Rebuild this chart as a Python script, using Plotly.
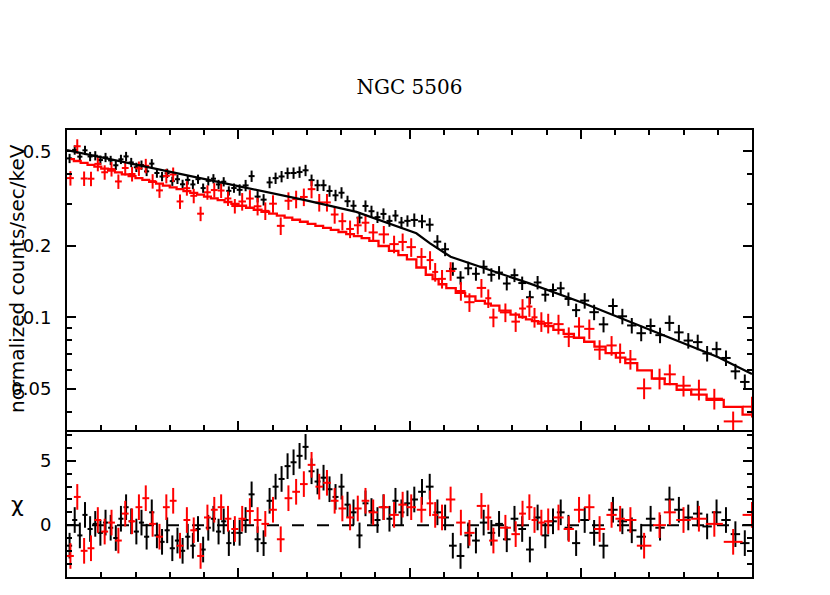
import numpy as np
import plotly.graph_objects as go
from plotly.subplots import make_subplots

# first data group (black)
e_black = [5.015, 5.045, 5.075, 5.105, 5.135, 5.165, 5.195, 5.225, 5.255, 5.285,
           5.315, 5.345, 5.375, 5.405, 5.435, 5.465, 5.495, 5.525, 5.555, 5.585,
           5.615, 5.645, 5.675, 5.705, 5.735, 5.765, 5.795, 5.825, 5.855, 5.885,
           5.915, 5.945, 5.975,
           6.008, 6.043, 6.078, 6.113, 6.148, 6.183, 6.218, 6.253, 6.288, 6.323,
           6.358, 6.393, 6.428, 6.463, 6.498, 6.533, 6.568, 6.603, 6.638, 6.673,
           6.708, 6.743, 6.778, 6.813, 6.848, 6.883, 6.918, 6.953, 6.988,
           7.028, 7.073, 7.118, 7.163, 7.208, 7.253, 7.298, 7.343, 7.388, 7.433,
           7.478, 7.523, 7.568, 7.613, 7.658, 7.703, 7.748, 7.793, 7.838, 7.883,
           7.928, 7.973,
           8.023, 8.078, 8.133, 8.188, 8.243, 8.298, 8.353, 8.408, 8.463, 8.518,
           8.573, 8.628, 8.683, 8.738, 8.793, 8.848, 8.903, 8.958]
flux_black = [0.4671, 0.5070, 0.4750, 0.5051, 0.4759, 0.4794, 0.4595, 0.4715, 0.4582, 0.4369,
              0.4629, 0.4761, 0.4492, 0.4286, 0.4378, 0.4119, 0.4439, 0.4053, 0.3918, 0.4044,
              0.3746, 0.3816, 0.3634, 0.3792, 0.3629, 0.3819, 0.3503, 0.3758, 0.3837, 0.3630,
              0.3726, 0.3409, 0.3504,
              0.3443, 0.3594, 0.3934, 0.3225, 0.3131, 0.3701, 0.3857, 0.3919, 0.4050, 0.4054,
              0.4092, 0.4161, 0.3784, 0.3600, 0.3601, 0.3407, 0.3265, 0.3348, 0.3084, 0.2951,
              0.2630, 0.2946, 0.2799, 0.2642, 0.2727, 0.2548, 0.2683, 0.2510, 0.2549,
              0.2572, 0.2538, 0.2456, 0.2084, 0.1936, 0.1601, 0.1470, 0.1610, 0.1526, 0.1634,
              0.1512, 0.1544, 0.1389, 0.1506, 0.1395, 0.1216, 0.1403, 0.1246, 0.1304, 0.1326,
              0.1196, 0.1073,
              0.1177, 0.1052, 0.0935, 0.1117, 0.1011, 0.0925, 0.0858, 0.0920, 0.0842, 0.0948,
              0.0865, 0.0799, 0.0787, 0.0705, 0.0735, 0.0675, 0.0593, 0.0535]
relerr_black = [0.045, 0.045, 0.045, 0.045, 0.045, 0.045, 0.045, 0.045, 0.045, 0.045,
                0.045, 0.045, 0.045, 0.045, 0.045, 0.045, 0.045, 0.045, 0.045, 0.045,
                0.045, 0.045, 0.045, 0.045, 0.045, 0.045, 0.045, 0.045, 0.045, 0.045,
                0.045, 0.045, 0.045,
                0.055, 0.055, 0.055, 0.055, 0.055, 0.055, 0.055, 0.055, 0.055, 0.055,
                0.055, 0.055, 0.055, 0.055, 0.055, 0.055, 0.055, 0.055, 0.055, 0.055,
                0.055, 0.055, 0.055, 0.055, 0.055, 0.055, 0.055, 0.055, 0.055,
                0.065, 0.065, 0.065, 0.065, 0.065, 0.065, 0.065, 0.065, 0.065, 0.065,
                0.065, 0.065, 0.065, 0.065, 0.065, 0.065, 0.065, 0.065, 0.065, 0.065,
                0.065, 0.065,
                0.075, 0.075, 0.075, 0.075, 0.075, 0.075, 0.075, 0.075, 0.075, 0.075,
                0.075, 0.075, 0.075, 0.075, 0.075, 0.075, 0.075, 0.075]
chi_black = [-1.6, 0.4, -0.8, 0.8, -0.3, 0.1, -0.6, 0.2, -0.2, -1.0,
             0.5, 1.4, 0.3, -0.5, 0.2, -0.9, 1.0, -0.8, -1.3, -0.4,
             -1.8, -1.2, -2.0, -0.9, -1.6, -0.3, -1.9, -0.2, 0.5, -0.5,
             0.3, -1.4, -0.6,
             -0.6, 0.4, 2.4, -1.1, -1.4, 1.9, 3.0, 3.6, 4.6, 4.9,
             5.4, 6.1, 4.2, 3.4, 3.7, 2.8, 2.2, 3.0, 1.6, 1.0,
             -0.8, 1.7, 1.1, 0.4, 1.4, 0.5, 1.9, 1.0, 1.7,
             2.0, 2.6, 3.0, 1.0, 0.6, -1.6, -2.4, -0.8, -1.2, 0.2,
             -0.6, 0.1, -1.1, 0.5, -0.3, -1.9, 0.6, -0.8, 0.3, 1.0,
             -0.2, -1.4,
             0.4, -0.6, -1.6, 1.2, 0.3, -0.4, -0.9, 0.5, -0.2, 2.0,
             1.2, 0.6, 0.9, -0.1, 1.0, 0.4, -0.7, -1.4]
# black model curve
model_e_black = [5.0, 5.5, 6.0, 6.39, 6.69, 7.04, 7.12, 7.24, 7.47, 7.70, 8.01, 8.41, 8.80, 9.0]
model_black = [0.506, 0.424, 0.357, 0.312, 0.278, 0.226, 0.205, 0.180, 0.158, 0.139,
               0.1153, 0.0886, 0.0681, 0.0578]

# second data group (red)
e_red = [5.02, 5.06, 5.10, 5.14, 5.18, 5.22, 5.26, 5.30, 5.34, 5.38,
         5.42, 5.46, 5.50, 5.54, 5.58, 5.62, 5.66, 5.70, 5.74, 5.78,
         5.82, 5.86, 5.90, 5.94, 5.98,
         6.023, 6.068, 6.113, 6.158, 6.203, 6.248, 6.293, 6.338, 6.383, 6.428,
         6.473, 6.518, 6.563, 6.608, 6.653, 6.698, 6.743, 6.788,
         6.85, 6.91, 6.96, 7.01, 7.07, 7.12, 7.15, 7.19, 7.24, 7.30,
         7.35, 7.42, 7.46, 7.49, 7.56,
         7.62, 7.66, 7.70, 7.73, 7.77, 7.81, 7.87, 7.93, 7.99, 8.05,
         8.11, 8.18, 8.23, 8.29,
         8.37, 8.46, 8.52, 8.60, 8.69, 8.78, 8.89, 9.0]
flux_red = [0.3858, 0.5254, 0.3844, 0.3836, 0.4430, 0.4083, 0.4212, 0.3735, 0.4256, 0.4014,
            0.4237, 0.4346, 0.3746, 0.3425, 0.3942, 0.3996, 0.3077, 0.3499, 0.3250, 0.2733,
            0.3363, 0.3436, 0.3420, 0.3167, 0.2943,
            0.3076, 0.3165, 0.2936, 0.2809, 0.3011, 0.2429, 0.3098, 0.3147, 0.3214, 0.3467,
            0.3048, 0.3049, 0.2711, 0.2541, 0.2357, 0.2442, 0.2504, 0.2279,
            0.2236, 0.2035, 0.2078, 0.1976, 0.1797, 0.1743, 0.1554, 0.1453, 0.1567, 0.1292,
            0.1159, 0.1331, 0.1204, 0.0999, 0.1050,
            0.0960, 0.1090, 0.1111, 0.1001, 0.0960, 0.0946, 0.0937, 0.0829, 0.0915, 0.0895,
            0.0732, 0.0762, 0.0709, 0.0666,
            0.0503, 0.0553, 0.0576, 0.0516, 0.0497, 0.0455, 0.0365, 0.0421]
relerr_red = [0.07, 0.07, 0.07, 0.07, 0.07, 0.07, 0.07, 0.07, 0.07, 0.07,
              0.07, 0.07, 0.07, 0.07, 0.07, 0.07, 0.07, 0.07, 0.07, 0.07,
              0.07, 0.07, 0.07, 0.07, 0.07,
              0.085, 0.085, 0.085, 0.085, 0.085, 0.085, 0.085, 0.085, 0.085, 0.085,
              0.085, 0.085, 0.085, 0.085, 0.085, 0.085, 0.085, 0.085,
              0.085, 0.085, 0.085, 0.09, 0.09, 0.09, 0.09, 0.09, 0.09, 0.09,
              0.09, 0.09, 0.09, 0.09, 0.09,
              0.095, 0.095, 0.095, 0.095, 0.095, 0.095, 0.095, 0.095, 0.095, 0.095,
              0.095, 0.095, 0.095, 0.095,
              0.1, 0.1, 0.1, 0.1, 0.1, 0.1, 0.1, 0.1]
chi_red = [-2.4, 2.2, -2.0, -1.8, 0.4, -0.5, 0.2, -1.2, 0.9, 0.3,
           1.4, 2.1, 0.1, -0.9, 1.4, 1.9, -1.6, 0.4, -0.4, -2.4,
           0.6, 1.2, 1.4, 0.5, -0.3,
           0.5, 1.1, 0.4, 0.1, 1.2, -1.1, 2.1, 2.6, 3.2, 4.7,
           3.0, 3.3, 1.9, 1.3, 0.6, 1.3, 1.9, 1.0,
           1.4, 0.8, 1.6, 1.4, 1.2, 1.7, 0.8, 0.6, 2.0, 0.2,
           -0.6, 1.5, 0.6, -1.2, -0.2,
           -0.7, 0.9, 1.4, 0.4, 0.2, 0.3, 0.6, -0.3, 1.2, 1.4,
           -0.3, 0.8, 0.5, 0.4,
           -1.6, 0.0, 1.0, 0.4, 0.5, 0.1, -1.3, 0.8]
# red model, one value per red bin (drawn as a histogram)
model_red = [0.4637, 0.4553, 0.4470, 0.4389, 0.4309, 0.4231, 0.4154, 0.4078, 0.4004, 0.3931,
             0.3859, 0.3789, 0.3720, 0.3655, 0.3590, 0.3527, 0.3465, 0.3404, 0.3344, 0.3285,
             0.3227, 0.3170, 0.3115, 0.3060, 0.3006,
             0.2951, 0.2894, 0.2839, 0.2785, 0.2732, 0.2680, 0.2629, 0.2577, 0.2527, 0.2477,
             0.2429, 0.2381, 0.2334, 0.2288, 0.2243, 0.2199, 0.2156, 0.2100,
             0.1998, 0.1905, 0.1829, 0.1755, 0.1622, 0.1512, 0.1450, 0.1379, 0.1328, 0.1269,
             0.1225, 0.1173, 0.1142, 0.1120, 0.1069,
             0.1028, 0.1004, 0.0981, 0.0964, 0.0942, 0.0920, 0.0886, 0.0853, 0.0821, 0.0790,
             0.0753, 0.0708, 0.0677, 0.0642,
             0.0599, 0.0553, 0.0524, 0.0496, 0.0473, 0.0450, 0.0420, 0.0390]

x_ticks = [6, 7, 8]
x_minor = [5.2, 5.4, 5.6, 5.8, 6.2, 6.4, 6.6, 6.8, 7.2, 7.4, 7.6, 7.8, 8.2, 8.4, 8.6, 8.8]
y_ticks = [0.05, 0.1, 0.2, 0.5]
y_minor = [0.04, 0.06, 0.07, 0.08, 0.09, 0.3, 0.4]
chi_ticks = [0, 5]
chi_minor = [-4, -3, -2, -1, 1, 2, 3, 4, 6, 7]


fig = make_subplots(rows=2, cols=1, shared_xaxes=True, vertical_spacing=0,
                    row_heights=[0.671, 0.329])

for e, flux, rel, chi, colour in [(e_black, flux_black, relerr_black, chi_black, 'black'),
                                  (e_red, flux_red, relerr_red, chi_red, 'red')]:
    halfw = np.gradient(np.array(e)) / 2
    err = np.array(flux) * np.array(rel)
    fig.add_trace(go.Scatter(
        x=e, y=flux, mode='markers', marker=dict(size=2, color=colour),
        error_x=dict(type='data', array=halfw, width=0, thickness=2, color=colour),
        error_y=dict(type='data', array=err, width=0, thickness=2, color=colour),
        showlegend=False), row=1, col=1)
    fig.add_trace(go.Scatter(
        x=e, y=chi, mode='markers', marker=dict(size=2, color=colour),
        error_x=dict(type='data', array=halfw, width=0, thickness=2, color=colour),
        error_y=dict(type='constant', value=1, width=0, thickness=2, color=colour),
        showlegend=False), row=2, col=1)

fig.add_trace(go.Scatter(x=model_e_black, y=model_black, mode='lines',
                         line=dict(color='black', width=2.3), showlegend=False), row=1, col=1)
fig.add_trace(go.Scatter(x=e_red, y=model_red, mode='lines',
                         line=dict(color='red', width=2.3, shape='hvh'), showlegend=False), row=1, col=1)

fig.add_hline(y=0, row=2, col=1, layer='below',
              line=dict(color='black', width=2, dash='12px,13px'))

axis_style = dict(showline=True, linecolor='black', linewidth=2,
                  ticks='inside', ticklen=9, tickwidth=1.5, tickcolor='black',
                  showgrid=False, zeroline=False, automargin=False)
minor_style = dict(ticks='inside', ticklen=5, tickwidth=1.5, tickcolor='black', showgrid=False)

# top panel frame carries the shared boundary line; the residual panel only draws its bottom line
fig.update_xaxes(range=[5, 9], tickmode='array', tickvals=x_ticks,
                 minor=dict(tickmode='array', tickvals=x_minor, **minor_style),
                 ticklabelstandoff=10, **axis_style)
fig.update_xaxes(mirror='ticks', row=1, col=1)
fig.update_xaxes(mirror=False, row=2, col=1)
fig.update_yaxes(type='log', range=[np.log10(0.0336), np.log10(0.615)],
                 tickmode='array', tickvals=y_ticks, ticktext=[str(v) for v in y_ticks],
                 minor=dict(tickmode='array', tickvals=y_minor, **minor_style),
                 ticklabelstandoff=10, mirror='ticks', row=1, col=1, **axis_style)
fig.update_yaxes(range=[-4.04, 7.42], tickmode='array', tickvals=chi_ticks,
                 minor=dict(tickmode='array', tickvals=chi_minor, **minor_style),
                 ticklabelstandoff=10, mirror='ticks', row=2, col=1, **axis_style)

# ticks along the top edge of the residual panel, without a second line
fig.update_layout(xaxis3=dict(overlaying='x2', anchor='y2', side='top', range=[5, 9],
                              tickmode='array', tickvals=x_ticks, showticklabels=False,
                              ticks='inside', ticklen=9, tickwidth=1.5, tickcolor='black',
                              minor=dict(tickmode='array', tickvals=x_minor, **minor_style),
                              showline=False, showgrid=False, zeroline=False, automargin=False))

# axis titles as annotations, placed in page pixels (page offset 8px, plot area starts at 67)
fig.add_annotation(text='normalized counts/sec/keV', textangle=-90, xref='paper', yref='paper',
                   x=(17 - 67) / 685, y=(577 - 279) / 447, showarrow=False,
                   xanchor='center', yanchor='middle', font=dict(size=20))
fig.add_annotation(text='χ', xref='paper', yref='paper',
                   x=(17 - 67) / 685, y=(577 - 504) / 447, showarrow=False,
                   xanchor='center', yanchor='middle', font=dict(size=22))

# the page draws the figure 8px in from the top-left corner
fig.update_layout(
    width=830, height=595,
    margin=dict(l=59, r=86, t=122, b=26),
    paper_bgcolor='white', plot_bgcolor='white',
    font=dict(family='DejaVu Sans', size=18, color='black'),
    title=dict(text='NGC 5506', x=0.5, xref='paper', y=1 - 79 / 595, yanchor='middle',
               font=dict(family='DejaVu Serif', size=20, color='black')),
    showlegend=False)

fig.write_html("out.html")
